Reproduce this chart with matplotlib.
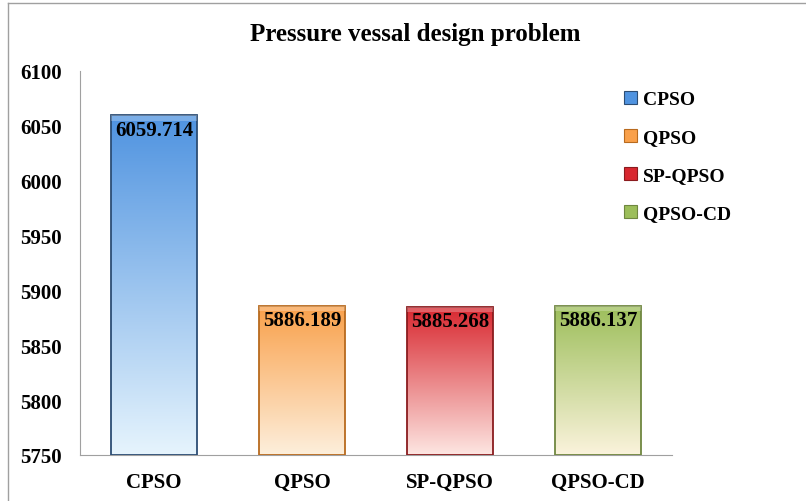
import numpy as np
import matplotlib
matplotlib.use("Agg")
import matplotlib.pyplot as plt
from matplotlib.colors import LinearSegmentedColormap
from matplotlib.patches import Patch

methods = ['CPSO', 'QPSO', 'SP-QPSO', 'QPSO-CD']
values = [6059.714, 5886.189, 5885.268, 5886.137]
labels = ['6059.714', '5886.189', '5885.268', '5886.137']
yticks = [5750, 5800, 5850, 5900, 5950, 6000, 6050, 6100]

# top colour, bottom colour, edge colour
tops = ['#4f93e0', '#f9a04a', '#d8272f', '#9cbe5a']
bottoms = ['#e6f4fd', '#fdefdc', '#fde6e2', '#fbf3dc']
edges = ['#2c4d74', '#b86a1e', '#8a1b1e', '#6f8740']

plt.rcParams['font.family'] = ['Liberation Serif', 'DejaVu Serif']
plt.rcParams['font.weight'] = 'bold'

fig = plt.figure(figsize=(8.06, 5.02), dpi=100)
ax = fig.add_axes([80/806, 1-456/502, (672-80)/806, (456-72)/502])

x = np.arange(len(methods))
width = 0.58
bars = ax.bar(x, values, width, bottom=0, color='none', edgecolor='none', zorder=2)
ax.set_ylim(5750, 6100)
ax.set_xlim(-0.5, len(methods) - 0.5)

grad = np.linspace(1, 0, 256).reshape(-1, 1)
for b, top, bot, ec in zip(bars, tops, bottoms, edges):
    cmap = LinearSegmentedColormap.from_list('g', [bot, top])
    x0 = b.get_x()
    x1 = x0 + b.get_width()
    h = b.get_height()
    im = ax.imshow(grad, cmap=cmap, vmin=0, vmax=1, aspect='auto',
                   extent=[x0, x1, 5750, h], zorder=2, interpolation='bicubic')
    im.set_clip_path(b)
    ax.add_patch(plt.Rectangle((x0, 5750), x1 - x0, h - 5750, fill=False,
                               edgecolor=ec, linewidth=1.3, zorder=3))
    # subtle bevel highlight at top
    ax.add_patch(plt.Rectangle((x0, h - 5), x1 - x0, 5, facecolor='white',
                               alpha=0.25, edgecolor='none', zorder=3))

for xi, v, t in zip(x, values, labels):
    ax.text(xi, v - 4, t, ha='center', va='top', fontsize=15,
            fontweight='bold', color='black', zorder=4)

ax.set_xticks(x)
ax.set_xticklabels(methods, fontsize=15, fontweight='bold')
ax.set_yticks(yticks)
ax.set_yticklabels([str(t) for t in yticks], fontsize=15, fontweight='bold')
ax.tick_params(axis='both', length=0)
ax.tick_params(axis='x', pad=12)
ax.tick_params(axis='y', pad=13)
for s in ['top', 'right']:
    ax.spines[s].set_visible(False)
ax.spines['left'].set_color('#a0a0a0')
ax.spines['bottom'].set_color('#a0a0a0')
ax.set_xlim(-0.5, len(methods) - 0.5)
ax.set_ylim(5750, 6100)

fig.text(415/806, 1-35/502, 'Pressure vessal design problem', ha='center',
         va='center', fontsize=18, fontweight='bold')

handles = [Patch(facecolor=t, edgecolor=e, linewidth=0.8) for t, e in zip(tops, edges)]
fig.legend(handles, methods, loc='upper left', bbox_to_anchor=(606/806, 1-74/502),
           frameon=False, prop={'weight': 'bold', 'size': 14},
           handlelength=0.7, handleheight=0.7, handletextpad=0.3, labelspacing=1.05)

# outer chart border
fig.add_artist(plt.Line2D([8/806, 8/806], [0, 1-4/502], color='#a0a0a0', lw=1))
fig.add_artist(plt.Line2D([8/806, 1], [1-4/502, 1-4/502], color='#a0a0a0', lw=1))

fig.savefig('out.png', dpi=100)
